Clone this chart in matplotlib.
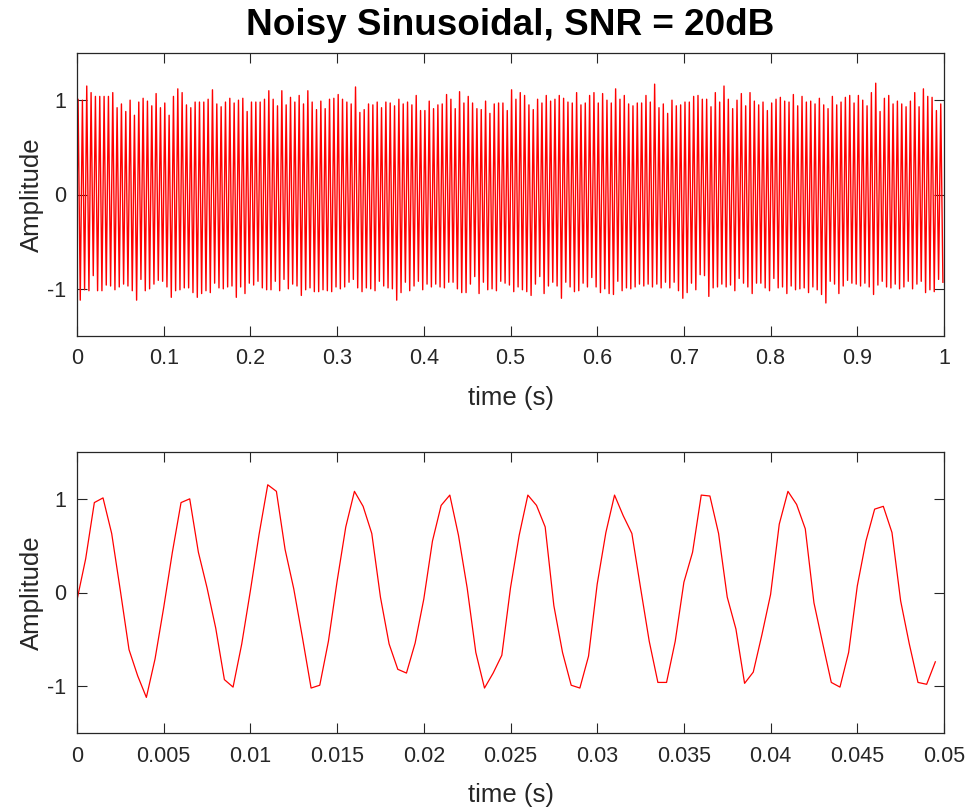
import matplotlib
matplotlib.use("Agg")
import matplotlib.pyplot as plt
import numpy as np

plt.rcParams['axes.unicode_minus'] = False
plt.rcParams['font.family'] = ['Liberation Sans', 'DejaVu Sans']

# ---------------- data ----------------
f0 = 200.0    # tone frequency (Hz)
fs = 2000.0   # sample rate (Hz)

# first 100 samples (bottom panel)
zoom_samples = [
    -0.08, 0.36, 0.96, 1.01, 0.63, 0.02, -0.61, -0.89, -1.12, -0.71,
    -0.16, 0.43, 0.96, 1.00, 0.43, 0.05, -0.38, -0.93, -1.01, -0.55,
    0.02, 0.62, 1.15, 1.08, 0.46, 0.04, -0.48, -1.02, -0.99, -0.52,
    0.12, 0.70, 1.08, 0.92, 0.63, -0.05, -0.55, -0.82, -0.86, -0.54,
    -0.07, 0.55, 0.93, 1.04, 0.61, 0.05, -0.64, -1.02, -0.86, -0.67,
    0.05, 0.61, 1.04, 0.93, 0.70, -0.14, -0.64, -0.99, -1.02, -0.68,
    0.09, 0.64, 1.04, 0.82, 0.63, 0.05, -0.52, -0.96, -0.96, -0.52,
    0.11, 0.43, 1.04, 1.03, 0.63, -0.05, -0.39, -0.97, -0.85, -0.45,
    -0.02, 0.73, 1.08, 0.94, 0.68, -0.11, -0.54, -0.96, -1.01, -0.64,
    0.07, 0.55, 0.89, 0.92, 0.64, -0.09, -0.55, -0.96, -0.98, -0.74,
]

# per-cycle maxima of the 1 s record (top panel), 200 cycles
cycle_peaks = [
    1.01, 1.00, 1.15, 1.08, 1.04, 1.04, 1.04, 1.04, 1.08, 0.92,
    0.96, 0.88, 1.00, 0.84, 0.98, 1.02, 0.99, 0.94, 1.07, 0.92,
    0.97, 0.84, 1.04, 1.12, 1.08, 0.95, 0.92, 0.98, 0.98, 0.98,
    1.01, 1.11, 0.96, 0.93, 0.98, 1.02, 0.97, 1.00, 1.02, 0.88,
    0.98, 0.98, 0.98, 1.01, 1.10, 1.01, 0.94, 1.10, 0.95, 1.03,
    0.98, 1.05, 0.96, 1.10, 0.98, 0.90, 0.99, 0.91, 1.01, 1.02,
    1.06, 1.01, 0.98, 0.96, 1.14, 0.87, 0.90, 0.96, 0.95, 0.98,
    0.92, 0.98, 0.97, 0.94, 1.01, 0.96, 0.98, 0.95, 1.05, 0.89,
    0.89, 0.99, 0.91, 0.95, 0.96, 1.06, 1.01, 0.91, 1.09, 0.97,
    1.04, 0.97, 0.91, 0.90, 0.99, 0.86, 0.96, 0.97, 0.97, 0.89,
    1.11, 1.01, 1.08, 1.05, 0.95, 0.90, 1.01, 0.97, 1.05, 0.99,
    1.01, 1.05, 1.02, 0.98, 0.97, 1.08, 0.95, 0.97, 1.05, 1.08,
    0.97, 1.07, 1.00, 0.97, 1.12, 1.01, 1.05, 0.96, 0.94, 0.97,
    0.97, 1.05, 0.98, 1.17, 0.92, 0.96, 0.86, 1.00, 0.94, 0.95,
    0.98, 0.98, 1.04, 1.05, 1.01, 1.01, 0.93, 1.08, 0.98, 1.15,
    1.01, 0.91, 1.00, 1.07, 0.94, 1.08, 0.99, 0.95, 0.98, 0.89,
    0.97, 1.01, 1.03, 0.99, 0.98, 1.06, 0.94, 1.04, 0.98, 0.99,
    0.96, 1.02, 0.95, 0.91, 1.04, 0.95, 0.98, 1.03, 1.05, 0.97,
    1.05, 1.00, 0.94, 1.08, 1.18, 0.88, 1.02, 1.05, 0.96, 0.99,
    0.96, 0.93, 0.99, 1.08, 0.93, 1.12, 1.04, 1.03, 0.89, 0.96,
]

# per-cycle minima of the 1 s record (top panel), 200 cycles
cycle_troughs = [
    -1.12, -1.01, -1.02, -0.86, -1.02, -1.02, -0.96, -0.97, -1.01, -0.98,
    -0.95, -0.97, -1.02, -1.12, -0.90, -1.02, -1.00, -0.95, -0.91, -0.92,
    -0.98, -1.09, -1.02, -1.01, -0.99, -0.99, -1.04, -1.09, -1.05, -1.02,
    -1.04, -0.94, -0.99, -1.00, -0.98, -0.97, -1.09, -0.98, -1.05, -0.94,
    -0.96, -0.92, -0.99, -1.01, -1.01, -0.92, -1.02, -0.90, -1.00, -0.95,
    -0.97, -1.07, -1.01, -0.99, -1.03, -1.03, -1.01, -1.02, -1.03, -0.98,
    -1.00, -0.98, -0.93, -0.90, -0.99, -1.03, -0.99, -1.00, -1.02, -0.92,
    -0.97, -0.99, -1.00, -1.12, -1.04, -0.93, -1.02, -0.97, -0.92, -1.01,
    -0.95, -0.98, -0.95, -0.98, -0.99, -0.93, -0.93, -1.00, -1.04, -1.04,
    -0.95, -0.87, -1.05, -0.93, -1.01, -1.00, -1.02, -0.92, -0.94, -0.96,
    -1.03, -0.98, -1.01, -1.03, -1.07, -0.95, -0.87, -1.05, -0.97, -0.93,
    -0.97, -1.10, -0.93, -0.98, -1.03, -1.02, -0.94, -0.98, -0.88, -0.98,
    -1.04, -1.00, -1.05, -1.06, -0.92, -1.02, -0.99, -1.00, -0.98, -0.95,
    -0.97, -0.95, -0.98, -0.95, -0.99, -0.93, -0.99, -0.93, -1.02, -1.10,
    -1.04, -0.94, -1.01, -0.85, -0.86, -1.08, -0.99, -0.98, -0.95, -0.98,
    -0.96, -1.02, -0.89, -0.94, -0.98, -1.05, -0.94, -0.94, -0.99, -1.02,
    -0.89, -0.99, -0.98, -1.05, -0.97, -1.01, -1.00, -0.99, -1.04, -0.98,
    -1.01, -1.06, -1.15, -0.92, -0.95, -1.05, -0.97, -0.91, -0.94, -0.95,
    -0.97, -0.94, -0.98, -1.06, -0.96, -0.92, -0.98, -0.99, -0.95, -1.00,
    -0.98, -0.92, -1.00, -0.95, -0.92, -1.04, -1.01, -1.03, -0.90, -0.93,
]

top_xticks = [0, 0.1, 0.2, 0.3, 0.4, 0.5, 0.6, 0.7, 0.8, 0.9, 1]
top_xticklabels = ['0', '0.1', '0.2', '0.3', '0.4', '0.5', '0.6', '0.7', '0.8', '0.9', '1']
bot_xticks = [0, 0.005, 0.01, 0.015, 0.02, 0.025, 0.03, 0.035, 0.04, 0.045, 0.05]
bot_xticklabels = ['0', '0.005', '0.01', '0.015', '0.02', '0.025', '0.03', '0.035', '0.04', '0.045', '0.05']
yticks = [-1, 0, 1]
yticklabels = ['-1', '0', '1']

title_text = 'Noisy Sinusoidal, SNR = 20dB'
xlabel_text = 'time (s)'
ylabel_text = 'Amplitude'

# ---------------- build series ----------------
n_cyc = len(cycle_peaks)
k = np.arange(n_cyc)
t_peak = (k + 0.25) / f0
t_trough = (k + 0.75) / f0
t_top = np.empty(2 * n_cyc + 1)
y_top = np.empty(2 * n_cyc + 1)
t_top[0] = 0.0
y_top[0] = zoom_samples[0]
t_top[1::2] = t_peak
t_top[2::2] = t_trough
y_top[1::2] = cycle_peaks
y_top[2::2] = cycle_troughs

t_zoom = np.arange(len(zoom_samples)) / fs

# ---------------- figure ----------------
W, H = 969, 807
fig = plt.figure(figsize=(W / 100, H / 100), dpi=100)
axc = '#262626'
left = 77 / W
width = 867 / W
ax1 = fig.add_axes([left, 1 - 336 / H, width, (336 - 53) / H])
ax2 = fig.add_axes([left, 1 - 733 / H, width, 281 / H])

ax1.plot(t_top, y_top, color='red', lw=1.0)
ax2.plot(t_zoom, zoom_samples, color='red', lw=0.9)

tick_fs = 15.5
lab_fs = 18.5

for ax, xt, xtl, xmax in [(ax1, top_xticks, top_xticklabels, 1.0),
                          (ax2, bot_xticks, bot_xticklabels, 0.05)]:
    ax.set_xlim(0, xmax)
    ax.set_ylim(-1.5, 1.5)
    ax.set_xticks(xt)
    ax.set_xticklabels(xtl)
    ax.set_yticks(yticks)
    ax.set_yticklabels(yticklabels)
    ax.tick_params(direction='in', length=7, width=0.8, colors=axc,
                   labelsize=tick_fs, top=True, right=True)
    ax.tick_params(axis='x', pad=9)
    ax.tick_params(axis='y', pad=8)
    for s in ax.spines.values():
        s.set_color(axc)
        s.set_linewidth(0.9)
    ax.set_xlabel(xlabel_text, fontsize=lab_fs, color=axc, labelpad=12)
    ax.set_ylabel(ylabel_text, fontsize=lab_fs, color=axc, labelpad=2)

ax1.set_title(title_text, fontsize=26.6, fontweight='bold', color='black', pad=13)

fig.savefig('out.png', dpi=100)
